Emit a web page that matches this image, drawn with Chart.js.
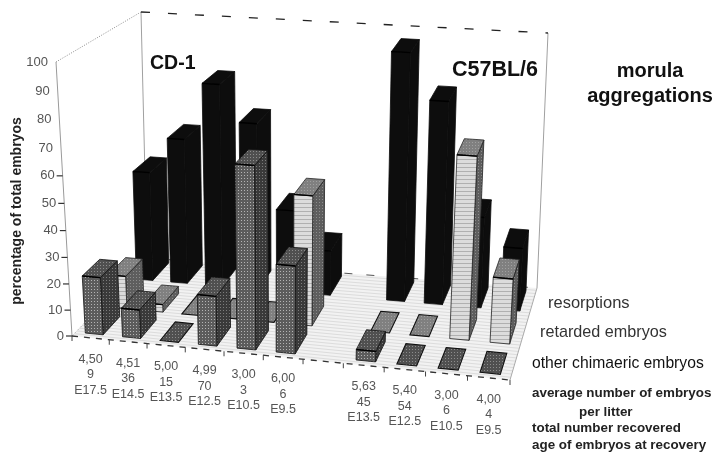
<!DOCTYPE html>
<html>
<head>
<meta charset="utf-8">
<title>morula aggregations</title>
<script src="https://cdn.jsdelivr.net/npm/chart.js@4"></script>
<style>
  html, body { margin: 0; padding: 0; background: #fff; }
  canvas { display: block; filter: blur(0.55px); }
</style>
</head>
<body>
<canvas id="chart" width="715" height="453"></canvas>
<script>
const averageEmbryos = ["4,50", "4,51", "5,00", "4,99", "3,00", "6,00", "", "5,63", "5,40", "3,00", "4,00"];
const totalRecovered = ["9", "36", "15", "70", "3", "6", "", "45", "54", "6", "4"];
const ageAtRecovery = ["E17.5", "E14.5", "E13.5", "E12.5", "E10.5", "E9.5", "", "E13.5", "E12.5", "E10.5", "E9.5"];

const resorptions = [44, 58, 80, 66, 33, 18, null, 96, 79, 36, 25];
const retardedEmbryos = [13, 3, 0, 0, 0, 50, null, 0, 0, 69, 25];
const otherChimaeric = [22, 11, 0, 19, 68, 33, null, 4, 0, 0, 0];

const yTicks = { min: 0, max: 100, stepSize: 10 };

// corners of the plot box as it sits on the page
const box = {
  floorFrontLeft: [72, 336],
  floorFrontRight: [510, 380],
  floorBackLeft: [147, 258],
  floorBackRight: [537, 288],
  topFrontLeft: [56, 62],
  topFrontRight: [528, 95],
  topBackLeft: [141, 12],
  topBackRight: [548, 33],
};

const lerp = (a, b, t) => [a[0] + (b[0] - a[0]) * t, a[1] + (b[1] - a[1]) * t];
const foreshorten = (t, k) => t / (1 + k * (1 - t));

const project = (u, v, w) => {
  const uu = foreshorten(u, 0.075);
  const ww = foreshorten(w, 0.066);
  const floor = lerp(
    lerp(box.floorFrontLeft, box.floorFrontRight, uu),
    lerp(box.floorBackLeft, box.floorBackRight, uu),
    v
  );
  const top = lerp(
    lerp(box.topFrontLeft, box.topFrontRight, uu),
    lerp(box.topBackLeft, box.topBackRight, uu),
    v
  );
  return lerp(floor, top, ww);
};

const makeTile = (size, paint) => {
  const tile = document.createElement("canvas");
  tile.width = size;
  tile.height = size;
  paint(tile.getContext("2d"));
  return tile;
};

const dotted = (base, dot) =>
  makeTile(3, (c) => {
    c.fillStyle = base;
    c.fillRect(0, 0, 3, 3);
    c.fillStyle = dot;
    c.fillRect(1, 1, 1, 1);
  });

const striped = (base, line) =>
  makeTile(4, (c) => {
    c.fillStyle = base;
    c.fillRect(0, 0, 4, 4);
    c.fillStyle = line;
    c.fillRect(0, 3, 4, 1);
  });

const rowStyles = (ctx) => [
  {
    depth: [0.05, 0.28],
    front: ctx.createPattern(dotted("#5c5c5c", "#b4b4b4"), "repeat"),
    side: ctx.createPattern(dotted("#3a3a3a", "#7c7c7c"), "repeat"),
    top: ctx.createPattern(dotted("#505050", "#8c8c8c"), "repeat"),
    edge: "#111",
  },
  {
    depth: [0.38, 0.61],
    front: ctx.createPattern(striped("#dcdcdc", "#b0b0b0"), "repeat"),
    side: ctx.createPattern(dotted("#5e5e5e", "#8c8c8c"), "repeat"),
    top: ctx.createPattern(dotted("#808080", "#a0a0a0"), "repeat"),
    edge: "#222",
  },
  {
    depth: [0.74, 0.96],
    front: "#0d0d0d",
    side: "#0d0d0d",
    top: "#0d0d0d",
    edge: "#0d0d0d",
  },
];

const polygon = (ctx, points, fill, stroke, width) => {
  ctx.beginPath();
  points.forEach((p, i) => (i ? ctx.lineTo(p[0], p[1]) : ctx.moveTo(p[0], p[1])));
  ctx.closePath();
  if (fill) {
    ctx.fillStyle = fill;
    ctx.fill();
  }
  if (stroke) {
    ctx.strokeStyle = stroke;
    ctx.lineWidth = width || 1;
    ctx.stroke();
  }
};

const segment = (ctx, a, b, color, width, dash) => {
  ctx.save();
  ctx.beginPath();
  ctx.moveTo(a[0], a[1]);
  ctx.lineTo(b[0], b[1]);
  ctx.strokeStyle = color;
  ctx.lineWidth = width;
  ctx.setLineDash(dash || []);
  ctx.stroke();
  ctx.restore();
};

const drawBox = (ctx) => {
  polygon(ctx, [project(0, 0, 0), project(1, 0, 0), project(1, 1, 0), project(0, 1, 0)], "#f2f2f2");
  for (let v = 0.03; v < 1; v += 0.035) {
    segment(ctx, project(0, v, 0), project(1, v, 0), "#dcdcdc", 1);
  }
  segment(ctx, project(0, 0, 0), project(0, 0, 1), "#9a9a9a", 1);
  segment(ctx, project(0, 0, 1), project(0, 1, 1), "#8a8a8a", 1, [1, 1.5]);
  segment(ctx, project(0, 1, 0), project(0, 1, 1), "#a0a0a0", 1);
  segment(ctx, project(1, 1, 0), project(1, 1, 1), "#a0a0a0", 1);
  segment(ctx, project(0, 1, 1), project(1, 1, 1), "#222", 1.3, [9, 18]);
  segment(ctx, project(0, 1, 0), project(1, 1, 0), "#555", 1, [8, 14]);
  segment(ctx, project(0, 0, 0), project(0, 1, 0), "#bbb", 1, [2, 2]);
  segment(ctx, project(1, 0, 0), project(1, 1, 0), "#aaa", 1);
  segment(ctx, project(0, 0, 0), project(1, 0, 0), "#333", 1.3, [6, 6]);
};

const drawBar = (ctx, style, u0, u1, w) => {
  const [v0, v1] = style.depth;
  const frontFace = [project(u0, v0, 0), project(u1, v0, 0), project(u1, v0, w), project(u0, v0, w)];
  const sideFace = [project(u1, v0, 0), project(u1, v1, 0), project(u1, v1, w), project(u1, v0, w)];
  const topFace = [project(u0, v0, w), project(u1, v0, w), project(u1, v1, w), project(u0, v1, w)];
  if (w > 0) {
    polygon(ctx, sideFace, style.side, style.edge, 0.8);
    polygon(ctx, frontFace, style.front, style.edge, 0.8);
    polygon(ctx, topFace, style.top, style.edge, 0.8);
    segment(ctx, project(u0, v0, w), project(u1, v0, w), "#000", 1.4);
  } else {
    polygon(ctx, topFace, style.top, "#111", 1.1);
  }
};

const drawAxisLabels = (ctx, chart) => {
  const { x, y } = chart.scales;
  const axisHeight = y.getPixelForValue(yTicks.min) - y.getPixelForValue(yTicks.max);

  ctx.textAlign = "right";
  ctx.textBaseline = "middle";
  ctx.font = '13px "Liberation Sans"';
  ctx.fillStyle = "#555";
  y.ticks.forEach((tick) => {
    const w = (y.getPixelForValue(yTicks.min) - y.getPixelForValue(tick.value)) / axisHeight;
    const p = project(0, 0, w);
    ctx.fillText(String(tick.value), p[0] - 8, p[1]);
    if (tick.value <= 60) segment(ctx, [p[0] - 6, p[1]], p, "#333", 1.2);
  });

  ctx.textAlign = "center";
  ctx.textBaseline = "alphabetic";
  ctx.font = '12.5px "Liberation Sans"';
  ctx.fillStyle = "#555";
  const span = x.right - x.left;
  x.getLabels().forEach((label, i) => {
    const edge = project((x.getPixelForValue(i - 0.5) - x.left) / span, 0, 0);
    segment(ctx, edge, [edge[0], edge[1] + 5], "#444", 1);
    const p = project((x.getPixelForValue(i) - x.left) / span, 0, 0);
    label.forEach((line, n) => ctx.fillText(line, p[0], p[1] + 25 + n * 15.5));
  });
  const end = project(1, 0, 0);
  segment(ctx, end, [end[0], end[1] + 5], "#444", 1);
};

const drawPageText = (ctx) => {
  ctx.fillStyle = "#111";
  ctx.textBaseline = "alphabetic";

  ctx.textAlign = "left";
  ctx.font = 'bold 19.5px "Liberation Sans"';
  ctx.fillText("CD-1", 150, 69);
  ctx.font = 'bold 21.5px "Liberation Sans"';
  ctx.fillText("C57BL/6", 452, 76);

  ctx.textAlign = "center";
  ctx.font = 'bold 20px "Liberation Sans"';
  ctx.fillText("morula", 650, 77);
  ctx.fillText("aggregations", 650, 102);

  ctx.textAlign = "left";
  ctx.font = '16.5px "Liberation Sans"';
  ctx.fillStyle = "#333";
  ctx.fillText("resorptions", 548, 308);
  ctx.font = '16.2px "Liberation Sans"';
  ctx.fillText("retarded embryos", 540, 337);
  ctx.font = '15.7px "Liberation Sans"';
  ctx.fillStyle = "#111";
  ctx.fillText("other chimaeric embryos", 532, 368);

  ctx.font = 'bold 13.4px "Liberation Sans"';
  ctx.fillStyle = "#222";
  ctx.fillText("average number of embryos", 532, 397);
  ctx.fillText("per litter", 579, 416);
  ctx.fillText("total number recovered", 532, 432);
  ctx.fillText("age of embryos at recovery", 532, 449);

  ctx.save();
  ctx.translate(21, 211);
  ctx.rotate(-Math.PI / 2);
  ctx.textAlign = "center";
  ctx.font = 'bold 14px "Liberation Sans"';
  ctx.fillStyle = "#222";
  ctx.fillText("percentage of total embryos", 0, 0);
  ctx.restore();
};

// draws the bars in perspective from the values of the chart's own scales
const perspectiveBars = {
  id: "perspectiveBars",
  beforeDatasetsDraw(chart) {
    const { ctx, scales } = chart;
    const { x, y } = scales;
    const span = x.right - x.left;
    const axisHeight = y.getPixelForValue(yTicks.min) - y.getPixelForValue(yTicks.max);
    const styles = rowStyles(ctx);

    ctx.save();
    drawBox(ctx);

    // back row first, and from right to left inside a row
    for (let row = chart.data.datasets.length - 1; row >= 0; row--) {
      const values = chart.data.datasets[row].data;
      for (let i = values.length - 1; i >= 0; i--) {
        if (values[i] === null) continue;
        const u0 = (x.getPixelForValue(i - 0.24) - x.left) / span;
        const u1 = (x.getPixelForValue(i + 0.24) - x.left) / span;
        const w = (y.getPixelForValue(yTicks.min) - y.getPixelForValue(values[i])) / axisHeight;
        drawBar(ctx, styles[row], u0, u1, w);
      }
    }

    drawAxisLabels(ctx, chart);
    drawPageText(ctx);
    ctx.restore();
    return false;
  },
};

new Chart(document.getElementById("chart"), {
  type: "bar",
  data: {
    labels: averageEmbryos.map((avg, i) => [avg, totalRecovered[i], ageAtRecovery[i]]),
    datasets: [
      { label: "other chimaeric embryos", data: otherChimaeric },
      { label: "retarded embryos", data: retardedEmbryos },
      { label: "resorptions", data: resorptions },
    ],
  },
  options: {
    responsive: false,
    animation: false,
    layout: { padding: 0 },
    plugins: { legend: { display: false }, title: { display: false }, tooltip: { enabled: false } },
    scales: {
      x: { display: false, ticks: { autoSkip: false } },
      y: { display: false, min: yTicks.min, max: yTicks.max, ticks: { stepSize: yTicks.stepSize } },
    },
  },
  plugins: [perspectiveBars],
});
</script>
</body>
</html>
